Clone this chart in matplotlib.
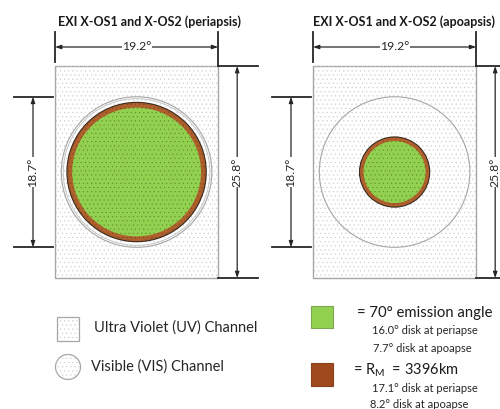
import matplotlib
matplotlib.use("Agg")
import matplotlib.pyplot as plt
from matplotlib.patches import Rectangle, Circle
import numpy as np

# ---- data ----
panel_titles = ["EXI X-OS1 and X-OS2 (periapsis)", "EXI X-OS1 and X-OS2 (apoapsis)"]
uv_fov = [19.2, 25.8]            # width, height (deg)
vis_fov = 18.7                   # diameter (deg)
emission_disk = [16.0, 7.7]      # 70 deg emission angle disk (peri, apo)
mars_disk = [17.1, 8.2]          # R_M disk (peri, apo)
mars_radius_km = 3396
emission_angle = 70
legend_labels = ["Ultra Violet (UV) Channel", "Visible (VIS) Channel"]

GREEN = "#92d050"
BROWN = "#b0602c"
BROWN_LEG = "#a0491f"
DARK = "#262626"

plt.rcParams['font.family'] = ['Lato', 'DejaVu Sans']
plt.rcParams['hatch.linewidth'] = 0.35

fig = plt.figure(figsize=(5.0, 4.09), dpi=100)
ax = fig.add_axes([0, 0, 1, 1])
ax.set_xlim(0, 500)
ax.set_ylim(409, 0)
ax.axis('off')

sx, sy = 8.5, 8.22      # px per degree for the UV rectangle
sc = 8.05               # px per degree for the circles
rect_left = [55, 313]
rect_top = 66
cy = rect_top + uv_fov[1] * sy / 2
ring_extra = [1.2, 3.0]  # extra brown outline width (pt) per panel
title_dx = [13, 9]


def dim_arrow(x0, y0, x1, y1):
    ax.annotate("", xy=(x1, y1), xytext=(x0, y0),
                arrowprops=dict(arrowstyle='<|-|>,head_length=0.35,head_width=0.12',
                                color=DARK, lw=0.9, shrinkA=0, shrinkB=0))


def dotted(patch_cls, *args, hatch_color='#cccccc', **kw):
    ax.add_patch(patch_cls(*args, facecolor='none', edgecolor=hatch_color, hatch='....',
                           lw=0, **kw))


for i in range(2):
    L = rect_left[i]
    W = uv_fov[0] * sx
    H = uv_fov[1] * sy
    R = L + W
    cx = L + W / 2
    # UV rectangle with dotted fill
    ax.add_patch(Rectangle((L, rect_top), W, H, facecolor='white', edgecolor='#a6a6a6',
                           lw=1.0, zorder=1))
    dotted(Rectangle, (L, rect_top), W, H, zorder=1.5)
    # VIS circle
    ax.add_patch(Circle((cx, cy), vis_fov * sc / 2, facecolor='none', edgecolor='#a6a6a6',
                        lw=0.8, zorder=2))
    if i == 0:
        ax.add_patch(Circle((cx, cy), mars_disk[i] * sc / 2 + 4.5, facecolor='none',
                            edgecolor='#c4c4c4', lw=0.7, zorder=2))
    # Mars disk and emission disk
    rm = mars_disk[i] * sc / 2
    ax.add_patch(Circle((cx, cy), rm, facecolor=BROWN, edgecolor='#3a2a20',
                        lw=0.8, zorder=3))
    ax.add_patch(Circle((cx, cy), rm, facecolor='none', edgecolor=BROWN,
                        lw=ring_extra[i], zorder=3.2))
    ax.add_patch(Circle((cx, cy), rm + ring_extra[i] * 100 / 72 / 2, facecolor='none',
                        edgecolor='#3a2a20', lw=0.8, zorder=3.3))
    ax.add_patch(Circle((cx, cy), emission_disk[i] * sc / 2, facecolor=GREEN, edgecolor='none',
                        zorder=4))
    dotted(Circle, (cx, cy), rm, hatch_color=(0.15, 0.2, 0.05, 0.35), zorder=4.5)
    # title
    ax.text(cx + title_dx[i], 22, panel_titles[i], ha='center', va='center', fontsize=9.0,
            fontweight='bold', color='#1a1a1a')
    # 19.2 dimension
    ax.plot([L, L], [32, 62], color=DARK, lw=1.3)
    ax.plot([R, R], [32, rect_top], color=DARK, lw=1.3)
    dim_arrow(L, 47, R, 47)
    ax.text(cx, 47, f"{uv_fov[0]:.1f}°", ha='center', va='center', fontsize=8.8, color=DARK,
            bbox=dict(facecolor='white', edgecolor='none', pad=0.3))
    # 25.8 dimension
    ax.plot([R, R + 40], [rect_top, rect_top], color=DARK, lw=1.3)
    ax.plot([R, R + 40], [rect_top + H, rect_top + H], color=DARK, lw=1.3)
    xv = R + 19
    dim_arrow(xv, rect_top, xv, rect_top + H)
    ax.text(xv, cy, f"{uv_fov[1]:.1f}°", ha='center', va='center', fontsize=8.8, color=DARK,
            rotation=90, bbox=dict(facecolor='white', edgecolor='none', pad=0.3))
    # 18.7 dimension
    vy0 = cy - vis_fov * sc / 2
    vy1 = cy + vis_fov * sc / 2
    xl = L - 22
    ax.plot([L - 41, L - 2], [vy0, vy0], color=DARK, lw=1.3)
    ax.plot([L - 41, L - 2], [vy1, vy1], color=DARK, lw=1.3)
    dim_arrow(xl, vy0, xl, vy1)
    ax.text(xl, cy, f"{vis_fov:.1f}°", ha='center', va='center', fontsize=8.8, color=DARK,
            rotation=90, bbox=dict(facecolor='white', edgecolor='none', pad=0.3))

# ---- legend (left) ----
ax.add_patch(Rectangle((57, 317), 22, 24, facecolor='white', edgecolor='#a6a6a6', lw=0.9))
dotted(Rectangle, (57, 317), 22, 24)
ax.text(94, 328, legend_labels[0], ha='left', va='center', fontsize=10.5, color='#262626')
ax.add_patch(Circle((68, 367), 12.5, facecolor='white', edgecolor='#a6a6a6', lw=0.9))
dotted(Circle, (68, 367), 12.5)
ax.text(91, 367, legend_labels[1], ha='left', va='center', fontsize=10.5, color='#262626')

# ---- legend (right) ----
ax.add_patch(Rectangle((311, 306), 22, 22, facecolor=GREEN, edgecolor='#7aa850', lw=0.8))
ax.text(357, 313, f"= {emission_angle}° emission angle", ha='left', va='center', fontsize=10.7,
        color='#1a1a1a')
ax.text(372, 331, f"{emission_disk[0]:.1f}° disk at periapse", ha='left', va='center',
        fontsize=8.0, color='#262626')
ax.text(373, 349, f"{emission_disk[1]:.1f}° disk at apoapse", ha='left', va='center',
        fontsize=8.0, color='#262626')
ax.add_patch(Rectangle((311, 363), 22, 23, facecolor=BROWN_LEG, edgecolor='#8a3e1a', lw=0.8))
ax.text(353, 370, r"= R$_{\mathregular{M}}$  = " + f"{mars_radius_km}km", ha='left', va='center',
        fontsize=10.5, color='#1a1a1a')
ax.text(372, 388, f"{mars_disk[0]:.1f}° disk at periapse", ha='left', va='center',
        fontsize=8.0, color='#262626')
ax.text(370, 404, f"{mars_disk[1]:.1f}° disk at apoapse", ha='left', va='center',
        fontsize=8.0, color='#262626')

fig.savefig("out.png", dpi=100, facecolor='white')
